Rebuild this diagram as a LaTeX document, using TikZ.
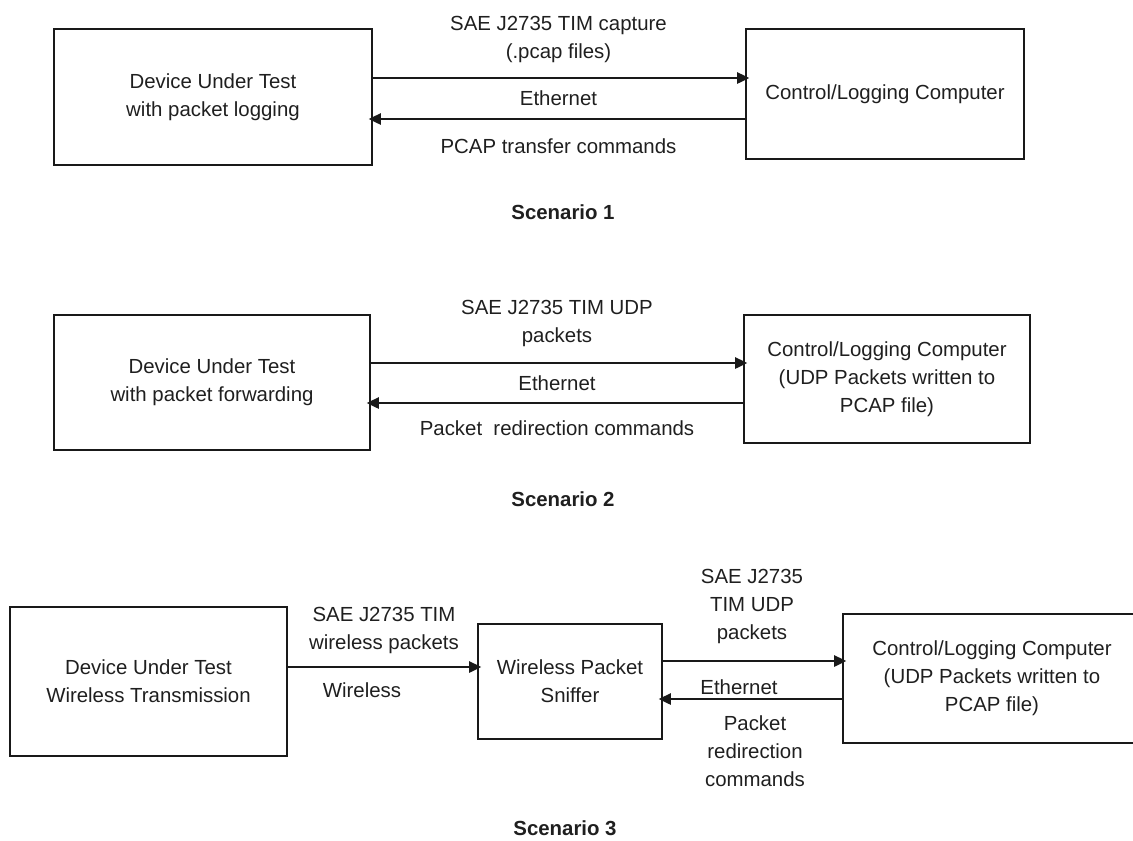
\documentclass[tikz,border=0pt]{standalone}
\usepackage{fontspec}
\setmainfont{Liberation Sans}
\usetikzlibrary{arrows.meta}
\begin{document}
\begin{tikzpicture}[x=0.75pt,y=-0.75pt,
  every node/.style={font=\fontsize{15.3pt}{21pt}\selectfont, text=black!88},
  box/.style={draw=black!90, line width=1.25pt, align=center, inner sep=0pt},
  lbl/.style={align=center, inner sep=0pt},
  scencap/.style={font=\fontsize{15.3pt}{21pt}\selectfont\bfseries, inner sep=0pt},
  arr/.style={draw=black!90, line width=1.25pt, -{Triangle[length=9pt,width=8.5pt]}, shorten >=-3pt}]
\useasboundingbox (0,0) rectangle (1133,840);
\clip (0,0) rectangle (1133,840);
% ---------- Scenario 1
\node[box, minimum width=238.5pt, minimum height=102pt] (L1) at (213,97) {Device Under Test\\with packet logging};
\node[box, minimum width=208.5pt, minimum height=97.5pt] (R1) at (885,94) {Control/Logging Computer};
\coordinate (y1a) at (0,78);
\coordinate (y1b) at (0,119);
\draw[arr] (L1.east |- y1a) -- (R1.west |- y1a);
\draw[arr] (R1.west |- y1b) -- (L1.east |- y1b);
\node[lbl] (t1a) at (558.5,39) {SAE J2735 TIM capture\\(.pcap files)};
\node[lbl] (t1b) at (558.5,98) {Ethernet};
\node[lbl] (t1c) at (558.5,146) {PCAP transfer commands};
\node[scencap] (s1) at (563,212) {Scenario 1};
% ---------- Scenario 2
\node[box, minimum width=237pt, minimum height=101.25pt] (L2) at (212,382.5) {Device Under Test\\with packet forwarding};
\node[box, minimum width=214.5pt, minimum height=96pt] (R2) at (887,379) {Control/Logging Computer\\(UDP Packets written to\\PCAP file)};
\coordinate (y2a) at (0,363);
\coordinate (y2b) at (0,403);
\draw[arr] (L2.east |- y2a) -- (R2.west |- y2a);
\draw[arr] (R2.west |- y2b) -- (L2.east |- y2b);
\node[lbl] (t2a) at (557,323) {SAE J2735 TIM UDP\\packets};
\node[lbl] (t2b) at (557,383) {Ethernet};
\node[lbl] (t2c) at (557,428) {Packet\ \ redirection commands};
\node[scencap] (s2) at (563,499) {Scenario 2};
% ---------- Scenario 3
\node[box, minimum width=207.75pt, minimum height=111.75pt] (L3) at (148.5,681.5) {Device Under Test\\Wireless Transmission};
\node[box, minimum width=138pt, minimum height=86.25pt] (S3) at (570,681.5) {Wireless Packet\\Sniffer};
\node[box, minimum width=223.5pt, minimum height=96.75pt] (R3) at (992,678.5) {Control/Logging Computer\\(UDP Packets written to\\PCAP file)};
\coordinate (y3a) at (0,667);
\coordinate (y3b) at (0,661);
\coordinate (y3c) at (0,699);
\draw[arr] (L3.east |- y3a) -- (S3.west |- y3a);
\draw[arr] (S3.east |- y3b) -- (R3.west |- y3b);
\draw[arr] (R3.west |- y3c) -- (S3.east |- y3c);
\node[lbl] (t3a) at (384,630) {SAE J2735 TIM\\wireless packets};
\node[lbl] (t3b) at (362,690) {Wireless};
\node[lbl] (t3c) at (752,606) {SAE J2735\\TIM UDP\\packets};
\node[lbl] (t3d) at (739,687) {Ethernet};
\node[lbl] (t3e) at (755,751) {Packet\\redirection\\commands};
\node[scencap] (s3) at (565,828) {Scenario 3};
\end{tikzpicture}
\end{document}
